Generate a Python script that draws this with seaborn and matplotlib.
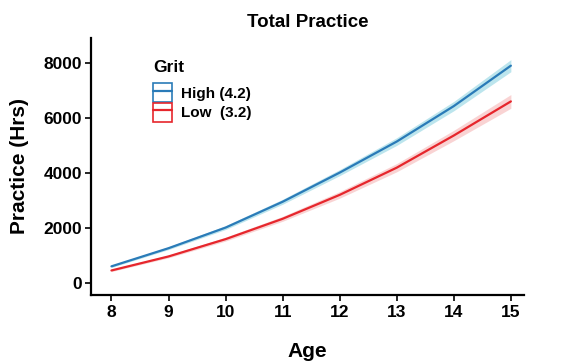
import matplotlib
matplotlib.use("Agg")
import matplotlib.pyplot as plt
import seaborn as sns
import pandas as pd
import numpy as np
from matplotlib.patches import Patch
from matplotlib.lines import Line2D
from matplotlib.legend_handler import HandlerTuple

ages = [8, 9, 10, 11, 12, 13, 14, 15]
high = [600, 1260, 2010, 2950, 4010, 5140, 6430, 7900]
low = [450, 960, 1590, 2330, 3200, 4190, 5360, 6600]
high_ci = [40, 50, 70, 90, 110, 140, 170, 220]
low_ci = [40, 50, 70, 90, 120, 150, 190, 250]
groups = ["High (4.2)", "Low  (3.2)"]

sns.set_theme(style="white")
plt.rcParams['font.family'] = ['Liberation Sans', 'DejaVu Sans']

line_colors = {"High (4.2)": "#2a7bb8", "Low  (3.2)": "#e6262c"}
band_colors = {"High (4.2)": "#acdfe9", "Low  (3.2)": "#f8c9c9"}

df = pd.DataFrame({
    "Age": ages * 2,
    "Practice": high + low,
    "ci": high_ci + low_ci,
    "Grit": [groups[0]] * len(ages) + [groups[1]] * len(ages),
})

fig = plt.figure(figsize=(5.79, 3.61), dpi=100)
ax = fig.add_axes([0.158, 0.183, 0.747, 0.712])

for g in groups:
    sub = df[df.Grit == g]
    ax.fill_between(sub.Age, sub.Practice - sub.ci, sub.Practice + sub.ci,
                    color=band_colors[g], alpha=0.8, linewidth=0)

sns.lineplot(data=df, x="Age", y="Practice", hue="Grit", palette=line_colors,
             linewidth=1.6, ax=ax, legend=False)

ax.set_xlim(7.65, 15.23)
ax.set_ylim(-440, 8910)
ax.set_xticks(ages)
ax.set_yticks([0, 2000, 4000, 6000, 8000])
for s in ["top", "right"]:
    ax.spines[s].set_visible(False)
for s in ["left", "bottom"]:
    ax.spines[s].set_color("black")
    ax.spines[s].set_linewidth(1.6)
ax.tick_params(axis="both", which="both", direction="out", length=4, width=1.2,
               color="black", labelsize=12.5, labelcolor="black", bottom=True, left=True, pad=3)
for lab in ax.get_xticklabels() + ax.get_yticklabels():
    lab.set_fontweight("bold")

ax.set_xlabel("Age", fontsize=15, fontweight="bold", color="black", labelpad=16)
ax.set_ylabel("Practice (Hrs)", fontsize=15, fontweight="bold", color="black", labelpad=10)
ax.set_title("Total Practice", fontsize=13.5, fontweight="bold", color="black", pad=8)

handles = []
for g in groups:
    handles.append((Patch(facecolor="white", edgecolor=line_colors[g], linewidth=1.2),
                    Line2D([], [], color=line_colors[g], linewidth=1.6)))
leg = ax.legend(handles, groups, title="Grit", loc="upper left",
                bbox_to_anchor=(0.118, 0.955), frameon=False,
                handler_map={tuple: HandlerTuple(ndivide=1, pad=0)},
                handlelength=1.25, handleheight=1.5, handletextpad=0.6,
                labelspacing=0.05, borderaxespad=0.3,
                prop={"weight": "bold", "size": 11})
leg.get_title().set_fontweight("bold")
leg.get_title().set_fontsize(12.5)
leg.get_title().set_color("black")
for t in leg.get_texts():
    t.set_color("black")
leg._legend_box.align = "left"
leg._legend_box.sep = 6

fig.savefig("out.png", dpi=100)
